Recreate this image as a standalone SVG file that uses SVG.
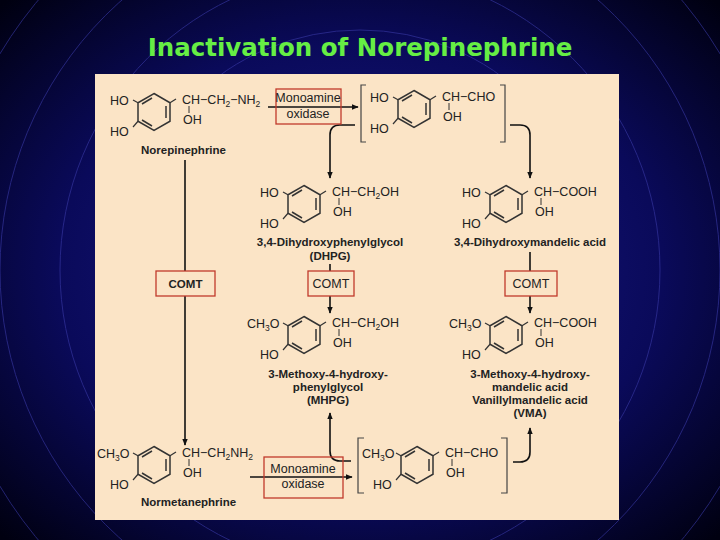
<svg xmlns="http://www.w3.org/2000/svg" width="720" height="540" viewBox="0 0 720 540">
<defs>
<radialGradient id="bg" cx="50%" cy="50%" r="70%"><stop offset="0" stop-color="#1a1a8c"/><stop offset="0.6" stop-color="#0a0a5a"/><stop offset="1" stop-color="#000010"/></radialGradient>
<marker id="ah" viewBox="0 0 10 10" refX="9" refY="5" markerWidth="7" markerHeight="7" orient="auto" markerUnits="userSpaceOnUse"><path d="M0,1 L10,5 L0,9 Z" fill="#111"/></marker>
<g id="ring">
<polygon points="0,-18.5 16,-9.25 16,9.25 0,18.5 -16,9.25 -16,-9.25" fill="none" stroke="#333" stroke-width="1.5"/>
<line x1="12" y1="-6" x2="12" y2="6" stroke="#333" stroke-width="1.5"/>
<line x1="-2" y1="-14" x2="-12" y2="-8" stroke="#333" stroke-width="1.5"/>
<line x1="-2" y1="14" x2="-12" y2="8" stroke="#333" stroke-width="1.5"/>
<line x1="-16" y1="-9.25" x2="-21" y2="-12" stroke="#333" stroke-width="1.2"/>
<line x1="-16" y1="9.25" x2="-21" y2="15" stroke="#333" stroke-width="1.2"/>
<line x1="16" y1="-9.25" x2="22" y2="-13" stroke="#333" stroke-width="1.2"/>
<line x1="35" y1="-6" x2="35" y2="1" stroke="#333" stroke-width="1"/>
</g>
</defs>
<style>
text{font-family:"Liberation Sans",Arial,sans-serif;fill:#222}
.t{font-size:12.5px}
.b{font-size:11.5px;font-weight:bold}
.box{fill:none;stroke:#c0392b;stroke-width:1.3}
.boxf{fill:#fbe4c6;stroke:#c0392b;stroke-width:1.3}
.ln{fill:none;stroke:#111;stroke-width:1.6}
.br{fill:none;stroke:#444;stroke-width:1.2}
</style>
<rect width="720" height="540" fill="url(#bg)"/>
<g fill="none" stroke="#3a3aa8" stroke-width="1" opacity="0.6">
<circle cx="360" cy="270" r="120"/><circle cx="360" cy="270" r="180"/><circle cx="360" cy="270" r="240"/><circle cx="360" cy="270" r="300"/><circle cx="360" cy="270" r="360"/><circle cx="360" cy="270" r="420"/>
</g>
<text x="360" y="56" text-anchor="middle" style="font-family:'DejaVu Sans',Verdana,sans-serif;font-size:24.5px;font-weight:bold;fill:#66ee44">Inactivation of Norepinephrine</text>
<rect x="95" y="74" width="524" height="446" fill="#fbe4c6"/>

<g id="connectors">
<path class="ln" d="M268,107 H358" marker-end="url(#ah)"/>
<path class="ln" d="M355,125 H340 Q330,125 330,135 V178" marker-end="url(#ah)"/>
<path class="ln" d="M510,125 H520 Q530,125 530,135 V178" marker-end="url(#ah)"/>
<path class="ln" d="M185,160 V445" marker-end="url(#ah)"/>
<path class="ln" d="M330,264 V313" marker-end="url(#ah)"/>
<path class="ln" d="M530,252 V313" marker-end="url(#ah)"/>
<path class="ln" d="M250,477 H352" marker-end="url(#ah)"/>
<path class="ln" d="M351,461 H340 Q330,461 330,451 V413" marker-end="url(#ah)"/>
<path class="ln" d="M513,462 H520 Q530,462 530,452 V428" marker-end="url(#ah)"/>
</g>

<g id="norepinephrine" transform="translate(154,112)">
<use href="#ring"/>
<text class="t" x="-44" y="-7">HO</text><text class="t" x="-44" y="24">HO</text>
<text class="t" x="28" y="-8">CH−CH<tspan font-size="8.5" dy="3">2</tspan><tspan dy="-3">−NH</tspan><tspan font-size="8.5" dy="3">2</tspan></text>
<text class="t" x="29" y="12">OH</text>
<text class="b" x="-13" y="42">Norepinephrine</text>
</g>
<g id="mao1"><rect class="box" x="276" y="89" width="65" height="35"/><text class="t" x="308" y="102" text-anchor="middle">Monoamine</text><text class="t" x="308" y="118" text-anchor="middle">oxidase</text></g>

<g id="aldehyde1">
<path class="br" d="M366,85 H361 V142 H366 M500,85 H505 V142 H500"/>
<g transform="translate(414,109)"><use href="#ring"/>
<text class="t" x="-44" y="-7">HO</text><text class="t" x="-44" y="24">HO</text>
<text class="t" x="28" y="-8">CH−CHO</text><text class="t" x="29" y="12">OH</text></g>
</g>

<g id="dhpg" transform="translate(304,204)">
<use href="#ring"/>
<text class="t" x="-44" y="-7">HO</text><text class="t" x="-44" y="24">HO</text>
<text class="t" x="28" y="-8">CH−CH<tspan font-size="8.5" dy="3">2</tspan><tspan dy="-3">OH</tspan></text>
<text class="t" x="29" y="12">OH</text>
<text class="b" x="26" y="42" text-anchor="middle">3,4-Dihydroxyphenylglycol</text>
<text class="b" x="26" y="56" text-anchor="middle">(DHPG)</text>
</g>
<g id="dhma" transform="translate(506,204)">
<use href="#ring"/>
<text class="t" x="-44" y="-7">HO</text><text class="t" x="-44" y="24">HO</text>
<text class="t" x="28" y="-8">CH−COOH</text>
<text class="t" x="29" y="12">OH</text>
<text class="b" x="24" y="42" text-anchor="middle">3,4-Dihydroxymandelic acid</text>
</g>

<g id="comt1"><rect class="boxf" x="156" y="271" width="59" height="25"/><text class="b" x="185.5" y="288" text-anchor="middle">COMT</text></g>
<g id="comt2"><rect class="boxf" x="308" y="271" width="46" height="25"/><text class="t" x="331" y="288" text-anchor="middle">COMT</text></g>
<g id="comt3"><rect class="boxf" x="505" y="271" width="52" height="25"/><text class="t" x="531" y="288" text-anchor="middle">COMT</text></g>

<g id="mhpg" transform="translate(304,335)">
<use href="#ring"/>
<text class="t" x="-57" y="-7">CH<tspan font-size="8.5" dy="3">3</tspan><tspan dy="-3">O</tspan></text><text class="t" x="-44" y="24">HO</text>
<text class="t" x="28" y="-8">CH−CH<tspan font-size="8.5" dy="3">2</tspan><tspan dy="-3">OH</tspan></text>
<text class="t" x="29" y="12">OH</text>
<text class="b" x="24" y="43" text-anchor="middle">3-Methoxy-4-hydroxy-</text>
<text class="b" x="24" y="56" text-anchor="middle">phenylglycol</text>
<text class="b" x="24" y="69" text-anchor="middle">(MHPG)</text>
</g>
<g id="vma" transform="translate(506,335)">
<use href="#ring"/>
<text class="t" x="-57" y="-7">CH<tspan font-size="8.5" dy="3">3</tspan><tspan dy="-3">O</tspan></text><text class="t" x="-44" y="24">HO</text>
<text class="t" x="28" y="-8">CH−COOH</text>
<text class="t" x="29" y="12">OH</text>
<text class="b" x="24" y="43" text-anchor="middle">3-Methoxy-4-hydroxy-</text>
<text class="b" x="24" y="56" text-anchor="middle">mandelic acid</text>
<text class="b" x="24" y="69" text-anchor="middle">Vanillylmandelic acid</text>
<text class="b" x="24" y="82" text-anchor="middle">(VMA)</text>
</g>

<g id="normetanephrine" transform="translate(154,465)">
<use href="#ring"/>
<text class="t" x="-57" y="-7">CH<tspan font-size="8.5" dy="3">3</tspan><tspan dy="-3">O</tspan></text><text class="t" x="-44" y="24">HO</text>
<text class="t" x="28" y="-8">CH−CH<tspan font-size="8.5" dy="3">2</tspan><tspan dy="-3">NH</tspan><tspan font-size="8.5" dy="3">2</tspan></text>
<text class="t" x="29" y="12">OH</text>
<text class="b" x="-13" y="41">Normetanephrine</text>
</g>
<g id="mao2"><rect class="box" x="264" y="457" width="79" height="41"/><text class="t" x="303" y="473" text-anchor="middle">Monoamine</text><text class="t" x="303" y="488" text-anchor="middle">oxidase</text></g>

<g id="aldehyde2">
<path class="br" d="M364,438 H358 V493 H364 M501,438 H507 V493 H501"/>
<g transform="translate(417,465)"><use href="#ring"/>
<text class="t" x="-55" y="-7">CH<tspan font-size="8.5" dy="3">3</tspan><tspan dy="-3">O</tspan></text><text class="t" x="-44" y="24">HO</text>
<text class="t" x="28" y="-8">CH−CHO</text><text class="t" x="29" y="12">OH</text></g>
</g>
</svg>
